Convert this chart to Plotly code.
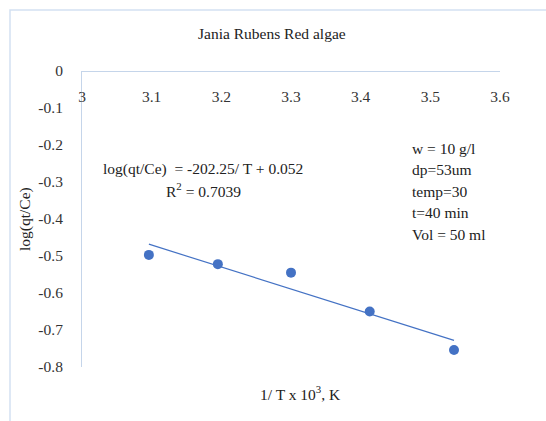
import numpy as np
import plotly.graph_objects as go

# 1/T x 10^3 (K^-1) and log(qt/Ce) for Jania Rubens red algae
inv_T = [3.096, 3.195, 3.300, 3.413, 3.534]
log_qt_ce = [-0.497, -0.522, -0.545, -0.650, -0.754]

x_ticks = [3.0, 3.1, 3.2, 3.3, 3.4, 3.5, 3.6]
x_tick_text = ["3", "3.1", "3.2", "3.3", "3.4", "3.5", "3.6"]
y_ticks = [0, -0.1, -0.2, -0.3, -0.4, -0.5, -0.6, -0.7, -0.8]
y_tick_text = ["0", "-0.1", "-0.2", "-0.3", "-0.4", "-0.5", "-0.6", "-0.7", "-0.8"]

conditions = ["w = 10 g/l", "dp=53um", "temp=30", "t=40 min", "Vol = 50 ml"]

BLUE = "#4472C4"
AXIS = "#c5d5ea"
FONT = "Liberation Serif"
FS = 15.5

# least-squares trend line over the data span
slope, intercept = np.polyfit(inv_T, log_qt_ce, 1)
fit_x = np.array([min(inv_T), max(inv_T)])
fit_y = slope * fit_x + intercept

fig = go.Figure()
fig.add_trace(go.Scatter(x=fit_x, y=fit_y, mode="lines",
                         line=dict(color=BLUE, width=1.2), hoverinfo="skip"))
fig.add_trace(go.Scatter(x=inv_T, y=log_qt_ce, mode="markers",
                         marker=dict(color=BLUE, size=10)))

W, H = 546, 421
L, R, T, B = 82, 46, 71, 54
pw, ph = W - L - R, H - T - B


def px_x(p):
    return (p - L) / pw


def px_y(p):
    return 1 - (p - T) / ph


fig.update_layout(
    width=W, height=H,
    margin=dict(l=L, r=R, t=T, b=B),
    paper_bgcolor="white", plot_bgcolor="white",
    showlegend=False,
    font=dict(family=FONT, size=FS, color="#222222"),
    # x axis sits on the y = 0 line at the top, labels hang below it
    xaxis=dict(range=[3.0, 3.6], anchor="free", position=1, side="bottom",
               tickvals=x_ticks, ticktext=x_tick_text,
               ticks="", showgrid=False, zeroline=False,
               showline=True, linecolor=AXIS, linewidth=1, ticklabelstandoff=11,
               tickfont=dict(family=FONT, size=FS, color="#333333")),
    yaxis=dict(range=[-0.8, 0], tickvals=y_ticks, ticktext=y_tick_text,
               ticks="", showgrid=False, zeroline=False, showline=True,
               linecolor=AXIS, linewidth=1, ticklabelstandoff=15,
               tickfont=dict(family=FONT, size=FS, color="#333333")),
)

# outer chart frame
fig.add_shape(type="rect", xref="paper", yref="paper",
              x0=px_x(10), x1=px_x(600), y0=px_y(470), y1=px_y(10),
              line=dict(color="#d3e1f2", width=1.5), fillcolor="rgba(0,0,0,0)", layer="below")

anns = [
    dict(text="Jania Rubens Red algae", x=px_x(272), y=px_y(33)),
    dict(text="log(qt/Ce)  = -202.25/ T + 0.052", x=px_x(203), y=px_y(169)),
    dict(text="R<sup>2</sup> = 0.7039", x=px_x(203), y=px_y(190)),
    dict(text="1/ T x 10<sup>3</sup>, K", x=px_x(300), y=px_y(393)),
]
for a in anns:
    fig.add_annotation(xref="paper", yref="paper", showarrow=False,
                       xanchor="center", yanchor="middle",
                       font=dict(family=FONT, size=FS, color="#222222"), **a)

fig.add_annotation(xref="paper", yref="paper", showarrow=False, textangle=-90,
                   text="log(qt/Ce)", x=px_x(25), y=px_y(219),
                   xanchor="center", yanchor="middle",
                   font=dict(family=FONT, size=FS, color="#222222"))

for i, line in enumerate(conditions):
    fig.add_annotation(xref="paper", yref="paper", showarrow=False,
                       text=line, x=px_x(410), y=px_y(148 + 21.6 * i),
                       xanchor="left", yanchor="middle",
                       font=dict(family=FONT, size=FS, color="#222222"))

fig.write_html("out.html")
